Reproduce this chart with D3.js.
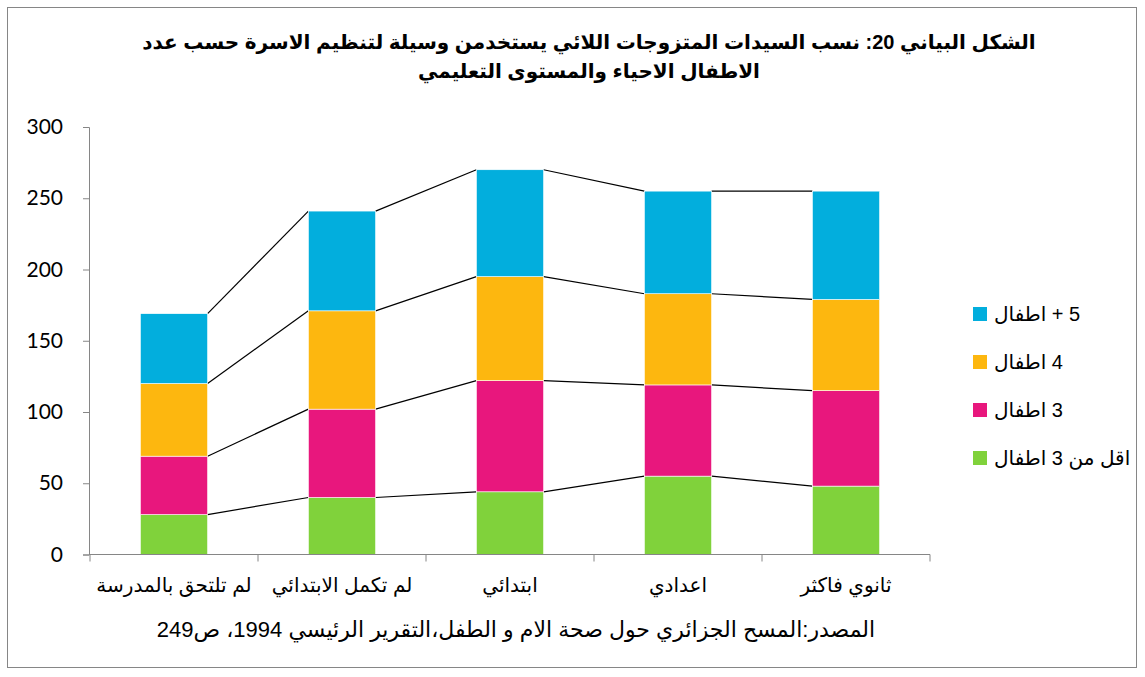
<!DOCTYPE html>
<html><head><meta charset="utf-8">
<script src="https://cdn.jsdelivr.net/npm/d3@7"></script>
<style>body{margin:0;background:#fff}svg{display:block}</style>
</head><body>
<svg id="c" width="1145" height="677"></svg>
<script>
const categories = ["لم تلتحق بالمدرسة","لم تكمل الابتدائي","ابتدائي","اعدادي","ثانوي فاكثر"];
const seriesNames = ["اقل من 3 اطفال","3 اطفال","4 اطفال","5 + اطفال"];
const lessThan3 = [28, 40, 44, 55, 48];
const three = [41, 62, 78, 64, 67];
const four = [51, 69, 73, 64, 64];
const fivePlus = [49, 70, 75, 72, 76];
const yTicks = [0, 50, 100, 150, 200, 250, 300];
const colors = ["#80D23B", "#E8177D", "#FDB70F", "#02AEDD"];
const titleLines = ["الشكل البياني 20: نسب السيدات المتزوجات اللائي يستخدمن وسيلة لتنظيم الاسرة حسب عدد", "الاطفال الاحياء والمستوى التعليمي"];
const sourceText = "المصدر:المسح الجزائري حول صحة الام و الطفل،التقرير الرئيسي 1994، ص249";

const svg = d3.select("#c");
const font = "'Liberation Sans', Arial, 'DejaVu Sans', sans-serif";
svg.append("rect").attr("x",7.5).attr("y",7.5).attr("width",1129).attr("height",660)
  .attr("fill","#fff").attr("stroke","#868686").attr("stroke-width",1);

const table = categories.map((c,i)=>({cat:c, s0:lessThan3[i], s1:three[i], s2:four[i], s3:fivePlus[i]}));
const stack = d3.stack().keys(["s0","s1","s2","s3"])(table);

const x = d3.scaleBand().domain(categories).range([90,930]).paddingInner(0.6).paddingOuter(0.3);
const y = d3.scaleLinear().domain([0,300]).range([554.5,127]);

// connector lines
stack.forEach(layer=>{
  for(let i=0;i<layer.length-1;i++){
    svg.append("line")
      .attr("x1", x(categories[i])+x.bandwidth()).attr("y1", y(layer[i][1]))
      .attr("x2", x(categories[i+1])).attr("y2", y(layer[i+1][1]))
      .attr("stroke","#000").attr("stroke-width",1.2);
  }
});

// bars
svg.append("g").selectAll("g").data(stack).join("g").attr("fill",(d,i)=>colors[i])
  .selectAll("rect").data(d=>d).join("rect")
  .attr("x",d=>x(d.data.cat)).attr("width",x.bandwidth())
  .attr("y",d=>y(d[1])).attr("height",d=>y(d[0])-y(d[1]))
  .attr("stroke","#fff").attr("stroke-width",0.6);

// y axis
const ya = svg.append("g").attr("transform","translate(89,0)")
  .call(d3.axisLeft(y).tickValues(yTicks).tickSize(6).tickPadding(20));
ya.selectAll("line,path").attr("stroke","#868686");
ya.selectAll("text").attr("font-family","Lato, 'Open Sans', sans-serif").attr("font-size",21).attr("fill","#000");

// x axis
const xa = svg.append("g").attr("transform",`translate(0,${y(0)})`)
  .call(d3.axisBottom(x).tickSize(0).tickFormat(""));
xa.select("path").attr("stroke","#868686").attr("d","M89,0H930");
const step = x.step();
xa.selectAll(".tk").data(d3.range(6)).join("line")
  .attr("x1",i=>90+i*step).attr("x2",i=>90+i*step).attr("y1",0).attr("y2",7).attr("stroke","#868686");
svg.append("g").selectAll("text").data(categories).join("text")
  .attr("x",d=>x(d)+x.bandwidth()/2).attr("y",592).attr("text-anchor","middle")
  .attr("direction","rtl").attr("font-family",font).attr("font-size",20).text(d=>d);

// title
svg.append("g").selectAll("text").data(titleLines).join("text")
  .attr("x",589).attr("y",(d,i)=>49+i*29).attr("text-anchor","middle").attr("direction","rtl")
  .attr("font-family",font).attr("font-weight","bold").attr("font-size",20).text(d=>d);

// source
svg.append("text").attr("x",516).attr("y",637).attr("text-anchor","middle").attr("direction","rtl")
  .attr("font-family",font).attr("font-size",22).text(sourceText);

// legend
const legendOrder = [3,2,1,0];
const lg = svg.append("g").selectAll("g").data(legendOrder).join("g")
  .attr("transform",(d,i)=>`translate(973,${314+i*48})`);
lg.append("rect").attr("x",0).attr("y",-7).attr("width",14).attr("height",14).attr("fill",d=>colors[d]);
lg.append("text").attr("x",21).attr("y",7).attr("direction","rtl").attr("text-anchor","end")
  .attr("font-family",font).attr("font-size",20).text(d=>seriesNames[d]);
</script>
</body></html>
